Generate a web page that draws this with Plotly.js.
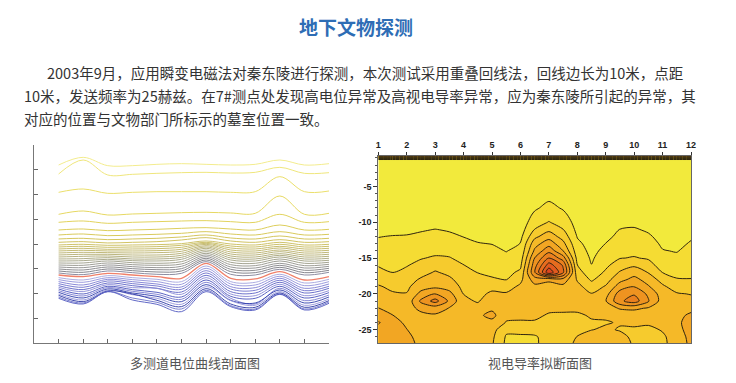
<!DOCTYPE html>
<html><head><meta charset="utf-8">
<script src="https://cdn.plot.ly/plotly-3.0.1.min.js"></script>
<style>html,body{margin:0;padding:0;background:#fff;}#chart{width:736px;height:383px;}</style>
</head><body><div id="chart"></div>
<script>
// ---------- left chart: multi-channel potential curves ----------
const stations = [1,2,3,4,5,6,7,8,9,10,11,12];

const yellowCurves = [
  [535,558,533,533,537,539,537,535,537,550,535,539],
  [508,550,505,507,510,512,513,511,513,528,510,512],
  [453,463,450,453,455,455,455,453,455,500,455,457],
  [387,397,385,388,390,392,393,391,390,442,387,390],
  [363,367,360,363,365,367,368,365,363,387,363,365],
  [340,343,338,340,342,345,347,343,340,355,340,342],
  [325,328,323,325,327,330,335,328,325,335,325,327],
  [313,315,311,313,315,319,325,316,313,322,313,315],
  [303,305,301,303,305,310,317,307,303,311,303,305]
];
const yellowColors = ['#f3ec8e','#efe67c','#ebdf6c','#e6d862','#e2d35e','#ddce5c','#d9ca5c','#d5c65e','#d1c362'];

const oliveCurves = [
  [295,297,294,295,296,299,307,298,295,303,295,297],
  [289,291,288,289,290,294,303,292,289,297,289,291],
  [283,285,282,283,284,288,300,286,283,291,283,285],
  [277,279,277,277,278,282,297,280,277,286,277,279],
  [271,273,272,271,272,276,293,274,271,280,271,273],
  [265,267,267,265,265,270,289,268,265,275,265,267],
  [259,261,262,259,259,264,285,262,259,269,259,261],
  [253,254,257,253,253,258,280,256,253,264,253,255],
  [247,248,252,248,247,252,275,250,247,259,247,249],
  [241,241,247,242,240,245,270,243,240,253,240,243],
  [235,234,241,236,234,238,265,236,233,247,233,237],
  [229,227,235,230,227,231,260,229,226,240,226,231],
  [223,220,229,224,221,224,255,222,219,234,219,225],
  [217,213,223,218,214,217,250,215,212,228,212,219],
  [211,206,217,212,207,210,245,207,205,222,205,213]
];
const oliveColors = ['#cfc36a','#ccc16e','#c8be72','#c4bb76','#c0b87a','#bbb57e','#b6b282','#b0ae88','#aaaa8e','#a4a492','#9e9e96','#989898','#8e8e92','#86868e','#8c8ca0'];

const redCurve = [205,200,210,205,200,195,240,195,193,215,190,200];
const redColor = '#f0806a';

const blueCurves = [
  [197,190,203,197,192,185,232,185,183,207,181,192],
  [191,183,197,191,185,177,225,178,175,201,173,185],
  [185,175,192,185,178,169,218,170,167,195,165,178],
  [179,168,187,179,172,162,211,163,159,189,158,171],
  [173,161,181,173,165,154,204,155,151,183,151,165],
  [168,155,176,167,165,147,197,148,143,177,143,158],
  [163,148,171,161,153,139,190,141,135,171,136,152],
  [158,142,167,156,147,132,183,135,118,165,128,145],
  [153,136,163,151,141,125,176,129,121,160,121,139],
  [148,130,160,146,135,117,170,128,114,155,114,133],
  [144,125,157,148,129,110,164,118,108,151,108,128],
  [139,121,155,136,123,103,159,113,103,148,103,124],
  [135,118,155,130,117,95,155,110,100,147,100,120]
];
const blueColors = ['#a4a4de','#9292da','#7e7ed2','#6e70cc','#5c62c4','#8a8ad6','#4a52bc','#7a7cd0','#2e3cac','#9494da','#2a36a4','#6a70c8','#5058c0'];

// ---------- right chart: apparent conductivity section ----------
const stationCols = [1,1.5,2,2.5,3,3.5,4,4.5,5,5.5,6,6.5,7,7.5,8,8.5,9,9.5,10,10.5,11,11.5,12];
const depthRows = [-0.7,-1.3,-2,-4,-6,-7,-8,-9,-10,-11,-12,-13,-14,-15,-16,-17,-18,-19,-20,-21,-22,-23,-24,-25,-26,-27];
// one array per station column, values from top (shallow) to bottom (deep)
const conductivity = [
  [5,0.5,0.3,0.2,0.2, 0.2,0.25,0.3,0.4,0.6,0.97,1.2,1.45,1.7,1.93,2.3,2.7,3.1,3.4,3.7,4.02,4.5,5.1,4.7,4.6,4.5],
  [5,0.5,0.3,0.2,0.2, 0.2,0.25,0.3,0.45,0.7,1.05,1.25,1.45,1.65,1.82,1.98,2.4,2.8,3.1,3.4,3.7,4.02,4.3,4.5,4.5,4.4],
  [5,0.5,0.3,0.2,0.2, 0.2,0.25,0.35,0.5,0.75,1.08,1.3,1.5,1.72,1.95,2.2,2.5,2.8,3.05,3.3,3.5,3.7,3.85,4.02,4.2,4.3],
  [5,0.5,0.3,0.2,0.2, 0.2,0.25,0.35,0.55,0.9,1.2,1.45,1.7,1.95,2.25,2.6,3.15,3.6,4.3,5.2,4.3,3.7,3.6,3.6,3.7,3.8],
  [5,0.5,0.3,0.2,0.2, 0.2,0.25,0.4,0.6,1.02,1.3,1.55,1.8,2.1,2.6,3.1,3.5,3.8,5.02,6.4,4.4,3.9,3.6,3.6,3.6,3.7],
  [5,0.5,0.3,0.2,0.2, 0.2,0.25,0.35,0.55,0.9,1.2,1.45,1.75,2.05,2.35,2.75,3.2,3.6,4.3,4.8,3.95,3.7,3.55,3.5,3.5,3.5],
  [5,0.5,0.3,0.2,0.2, 0.2,0.25,0.3,0.45,0.7,0.98,1.25,1.5,1.75,2.02,2.25,2.5,2.75,2.98,3.2,3.4,3.5,3.5,3.5,3.45,3.4],
  [5,0.5,0.3,0.2,0.2, 0.2,0.25,0.3,0.4,0.55,0.8,1.05,1.3,1.5,1.75,1.98,2.25,2.5,2.7,2.92,3.3,3.8,3.6,3.45,3.4,3.3],
  [5,0.5,0.3,0.2,0.2, 0.2,0.25,0.3,0.4,0.5,0.7,0.98,1.2,1.4,1.6,1.82,2.1,2.7,3.2,3.5,3.8,4.3,3.7,3.4,3.2,3.1],
  [5,0.5,0.3,0.2,0.2, 0.2,0.22,0.28,0.35,0.45,0.6,0.8,0.97,1.2,1.45,1.7,1.97,2.6,3.1,3.3,3.35,3.2,2.95,2.2,1.9,1.8],
  [5,0.5,0.3,0.2,0.2, 0.2,0.25,0.3,0.4,0.55,0.75,1.02,1.25,1.5,1.8,2.2,2.75,3.2,3.4,3.45,3.4,3.2,2.9,2.4,1.8,1.7],
  [5,0.5,0.3,0.2,0.2, 0.3,0.85,1.2,1.55,2.02,2.75,3.6,4.2,5.02,5.6,5.9,4.5,3.7,3.5,3.5,3.4,3.2,2.9,2.5,1.85,1.8],
  [5,0.5,0.3,0.2,0.55, 0.97,1.3,1.65,2.05,2.75,3.6,4.6,5.7,7.02,8.5,9.8,4.2,3.6,3.5,3.5,3.2,2.9,2.8,2.6,2.5,2.5],
  [5,0.5,0.3,0.2,0.2, 0.35,0.9,1.25,1.6,2.02,2.6,3.3,4.02,5.5,6.9,7.2,4.6,3.7,3.5,3.45,3.2,2.85,2.75,2.7,2.75,2.8],
  [5,0.5,0.3,0.2,0.2, 0.2,0.3,0.45,0.6,0.75,0.95,1.2,1.45,1.7,2.02,2.4,2.9,3.3,3.4,3.4,3.2,2.85,2.7,2.8,3.02,3.1],
  [5,0.5,0.3,0.2,0.2, 0.2,0.25,0.3,0.35,0.45,0.55,0.65,0.75,0.88,1.02,1.4,1.85,2.5,3.05,3.3,3.3,3.1,2.9,2.98,3.3,3.5],
  [5,0.5,0.3,0.2,0.2, 0.2,0.25,0.3,0.4,0.5,0.7,1.02,1.25,1.5,1.8,2.15,2.6,3.1,3.6,3.95,3.5,3.1,2.95,3.1,3.4,3.6],
  [5,0.5,0.3,0.2,0.2, 0.2,0.3,0.4,0.6,1.02,1.3,1.55,1.8,1.97,2.5,3.1,3.7,4.5,5.5,5.8,4.1,3.3,3.05,2.95,3.2,3.4],
  [5,0.5,0.3,0.2,0.2, 0.2,0.3,0.45,0.75,1.1,1.35,1.6,1.82,2.05,2.85,3.6,4.3,5.02,5.9,6.5,4.2,3.4,3.15,2.9,2.85,2.9],
  [5,0.5,0.3,0.2,0.2, 0.2,0.25,0.35,0.55,0.85,1.15,1.4,1.65,1.92,2.3,2.95,3.6,4.1,4.8,5.1,3.9,3.3,3.1,2.85,2.8,2.85],
  [5,0.5,0.3,0.2,0.2, 0.2,0.25,0.3,0.4,0.5,0.65,0.85,1.05,1.35,1.65,1.98,2.6,3.2,3.5,3.55,3.5,3.3,3.2,3.05,2.9,2.9],
  [5,0.5,0.3,0.2,0.2, 0.2,0.25,0.3,0.38,0.45,0.58,0.75,0.95,1.2,1.5,1.8,2.05,2.5,3.1,3.4,3.55,3.7,3.8,3.6,3.3,3.2],
  [5,0.5,0.3,0.2,0.2, 0.2,0.25,0.35,0.5,0.65,0.88,1.1,1.3,1.5,1.7,1.88,2.02,2.5,2.95,3.3,3.7,4.2,4.4,4.5,4.4,4.3]
];
const bandColors = ['#f2ea3c','#f5dc33','#f6cb2d','#f5b928','#f2a623','#ee9320','#ea801f','#e66c1f','#e2591f','#dd461f'];
const depthTicks = [-5,-10,-15,-20,-25];
const depthTickText = ['-5','-10','-15','-20','-25'];

// ---------- texts ----------
const titleText = '地下文物探测';
const paraLines = [
  '2003年9月，应用瞬变电磁法对秦东陵进行探测，本次测试采用重叠回线法，回线边长为10米，点距',
  '10米，发送频率为25赫兹。在7#测点处发现高电位异常及高视电导率异常，应为秦东陵所引起的异常，其',
  '对应的位置与文物部门所标示的墓室位置一致。'
];
const captionLeft = '多测道电位曲线剖面图';
const captionRight = '视电导率拟断面图';

// ---------- build ----------
const W = 736, H = 383;
const traces = [];
function addCurves(list, colors, width) {
  list.forEach((vals, i) => {
    traces.push({type:'scatter', mode:'lines', x: stations, y: vals, xaxis:'x', yaxis:'y',
      line:{color: colors[i % colors.length], width: width, shape:'spline', smoothing:1},
      hoverinfo:'skip', showlegend:false});
  });
}
addCurves(yellowCurves, yellowColors, 1);
addCurves(oliveCurves, oliveColors, 1);
addCurves(blueCurves, blueColors, 0.9);
addCurves([redCurve], [redColor], 1.3);

const nLev = bandColors.length;
traces.push({
  type:'contour', x: stationCols, y: depthRows, z: conductivity, transpose: true,
  xaxis:'x2', yaxis:'y2', autocontour:false,
  contours:{start:1, end:nLev-1, size:1, coloring:'fill', showlines:true},
  colorscale: bandColors.map((c,k)=>[k/(nLev-1), c]),
  line:{color:'#2e2410', width:1, smoothing:0.8},
  showscale:false, hoverinfo:'skip'
});

const px = v => v / W, py = v => 1 - v / H;
const cjk = '"Noto Sans CJK SC", "Noto Sans", sans-serif';
const annotations = [
  {text: titleText, x: px(356), y: py(26), xref:'paper', yref:'paper', showarrow:false,
   xanchor:'center', yanchor:'middle', font:{family:cjk, size:19, color:'#2e6db5', weight:'bold'}},
  {text: captionLeft, x: px(195), y: py(362), xref:'paper', yref:'paper', showarrow:false,
   xanchor:'center', yanchor:'middle', font:{family:cjk, size:13, color:'#555'}},
  {text: captionRight, x: px(540), y: py(362), xref:'paper', yref:'paper', showarrow:false,
   xanchor:'center', yanchor:'middle', font:{family:cjk, size:13, color:'#555'}}
];
const paraX = [45, 22, 22], paraY = [72, 95, 118];
paraLines.forEach((t,i) => annotations.push({text:t, x:px(paraX[i]), y:py(paraY[i]), xref:'paper', yref:'paper',
  showarrow:false, xanchor:'left', yanchor:'middle', font:{family:cjk, size:14.5, color:'#333'}}));

const layout = {
  width: W, height: H, margin:{l:0,r:0,t:0,b:0}, paper_bgcolor:'#fff', plot_bgcolor:'rgba(0,0,0,0)',
  showlegend:false,
  xaxis:{domain:[px(34), px(329)], range:[0,12], tickvals: stations, ticks:'inside', ticklen:4, tickcolor:'#666',
    showticklabels:false, showgrid:false, zeroline:false, showline:true, linecolor:'#777', linewidth:1, anchor:'y'},
  yaxis:{domain:[py(343.3), py(145)], range:[0,595], tick0:0, dtick:74.375, ticks:'inside', ticklen:4, tickcolor:'#666',
    showticklabels:false, showgrid:false, zeroline:false, showline:true, linecolor:'#777', linewidth:1, anchor:'x'},
  xaxis2:{domain:[px(378.3), px(691)], range:[1,12], side:'top', tickvals: stations, ticks:'outside', ticklen:3,
    tickcolor:'#333', tickfont:{family:'"Liberation Sans", Arial, sans-serif', size:9, color:'#222', weight:'bold'},
    showgrid:false, zeroline:false, showline:true, mirror:true, linecolor:'#666', linewidth:1, anchor:'y2'},
  yaxis2:{domain:[py(343.3), py(155.7)], range:[-26.9,-0.7], tickvals: depthTicks, ticktext: depthTickText,
    ticks:'outside', ticklen:4, tickcolor:'#333', minor:{dtick:1, ticks:'outside', ticklen:2, tickcolor:'#555'},
    tickfont:{family:'"Liberation Sans", Arial, sans-serif', size:9, color:'#222', weight:'bold'},
    showgrid:false, zeroline:false, showline:true, mirror:true, linecolor:'#666', linewidth:1, anchor:'x2'},
  annotations: annotations
};
Plotly.newPlot('chart', traces, layout, {staticPlot:true, displayModeBar:false});
</script>
</body></html>
